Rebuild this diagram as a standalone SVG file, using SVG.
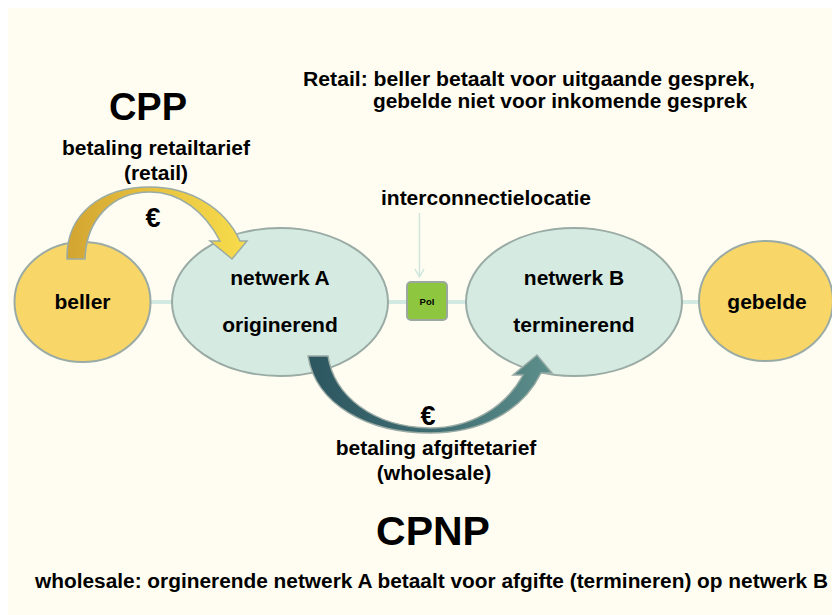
<svg xmlns="http://www.w3.org/2000/svg" width="832" height="615" viewBox="0 0 832 615">
  <defs>
    <style>
      text { font-family: "Liberation Sans", Arial, sans-serif; font-weight: bold; fill: #000; }
      .lbl { font-size: 21px; text-anchor: middle; }
      .big { text-anchor: middle; }
      .oval-mint { fill: #D5EBE2; stroke: #9AABA5; stroke-width: 2; }
      .oval-sun { fill: #F8D668; stroke: #9AABA5; stroke-width: 2; }
      .link { stroke: #D3EAE2; stroke-width: 4; fill: none; }
      .pay { stroke: #9AABA5; stroke-width: 1.5; stroke-linejoin: miter; }
      .euro { font-size: 27px; text-anchor: middle; }
    </style>
    <linearGradient id="goldFlow" x1="0" y1="0" x2="1" y2="0">
      <stop offset="0" stop-color="#D2A431"/>
      <stop offset="0.5" stop-color="#E8C43F"/>
      <stop offset="1" stop-color="#F8DC4C"/>
    </linearGradient>
    <linearGradient id="tealFlow" x1="0" y1="0" x2="1" y2="0">
      <stop offset="0" stop-color="#2D5660"/>
      <stop offset="0.5" stop-color="#3E6D72"/>
      <stop offset="1" stop-color="#5D8F8B"/>
    </linearGradient>
  </defs>

  <!-- page -->
  <rect x="0" y="0" width="832" height="615" fill="#FFFFFF"/>
  <rect x="8" y="8" width="824" height="607" fill="#FFFDF1"/>

  <!-- connectors -->
  <g id="connectors">
    <line class="link" x1="150" y1="302" x2="173" y2="302"/>
    <line class="link" x1="387" y1="302" x2="408" y2="302"/>
    <line class="link" x1="446" y1="302" x2="467" y2="302"/>
    <line class="link" x1="681" y1="302" x2="700" y2="302"/>
    <line x1="419.5" y1="213" x2="419.5" y2="276" stroke="#CFE5DD" stroke-width="1.5"/>
    <polyline points="415,269 419.5,277 424,269" fill="none" stroke="#CFE5DD" stroke-width="1.5"/>
  </g>

  <!-- nodes -->
  <g id="beller">
    <ellipse class="oval-sun" cx="82.5" cy="302" rx="68" ry="60"/>
    <text class="lbl" x="82.5" y="309">beller</text>
  </g>
  <g id="netwerk-a">
    <ellipse class="oval-mint" cx="280" cy="302" rx="108" ry="74"/>
    <text class="lbl" x="280" y="285">netwerk A</text>
    <text class="lbl" x="280" y="332">originerend</text>
  </g>
  <g id="poi">
    <rect x="407" y="282" width="40" height="38" rx="4" fill="#8FC63F" stroke="#9AA8A0" stroke-width="2"/>
    <text x="427" y="305" font-size="9.5" text-anchor="middle">PoI</text>
  </g>
  <g id="netwerk-b">
    <ellipse class="oval-mint" cx="574" cy="302" rx="108" ry="74"/>
    <text class="lbl" x="574" y="285">netwerk B</text>
    <text class="lbl" x="574" y="332">terminerend</text>
  </g>
  <g id="gebelde">
    <ellipse class="oval-sun" cx="766" cy="301" rx="67" ry="60"/>
    <text class="lbl" x="767" y="309">gebelde</text>
  </g>

  <!-- payment arrows -->
  <g id="retail-payment">
    <path class="pay" fill="url(#goldFlow)"
          d="M 67 259 C 66 215, 100 187, 150 187 C 190 187, 225 208, 240 241 L 247 241 L 232 259 L 210 241 L 220 241 C 205 212, 180 192, 150 192 C 112 192, 86 220, 85 259 Z"/>
    <text class="euro" x="153" y="227">€</text>
  </g>
  <g id="wholesale-payment">
    <path class="pay" fill="url(#tealFlow)"
          d="M 308 356 L 328 356 C 334 395, 372 427, 430 428 C 470 428, 505 408, 523 375 L 513 375 L 537 355 L 552 373 L 541 373 C 522 412, 480 433, 430 433 C 368 433, 316 405, 308 356 Z"/>
    <text class="euro" x="428" y="425">€</text>
  </g>

  <!-- captions -->
  <text class="big" x="148" y="120" font-size="38">CPP</text>
  <text class="lbl" x="156" y="155">betaling retailtarief</text>
  <text class="lbl" x="156" y="180">(retail)</text>

  <text font-size="20.5"><tspan x="303" y="86" textLength="452" lengthAdjust="spacingAndGlyphs">Retail: beller betaalt voor uitgaande gesprek,</tspan><tspan x="373" y="108" textLength="374" lengthAdjust="spacingAndGlyphs">gebelde niet voor inkomende gesprek</tspan></text>

  <text class="lbl" x="486" y="205">interconnectielocatie</text>

  <text class="lbl" x="436" y="455">betaling afgiftetarief</text>
  <text class="lbl" x="434" y="480">(wholesale)</text>

  <text class="big" x="433" y="545" font-size="41">CPNP</text>
  <text x="35" y="588" font-size="20" textLength="793" lengthAdjust="spacingAndGlyphs">wholesale: orginerende netwerk A betaalt voor afgifte (termineren) op netwerk B</text>
</svg>
